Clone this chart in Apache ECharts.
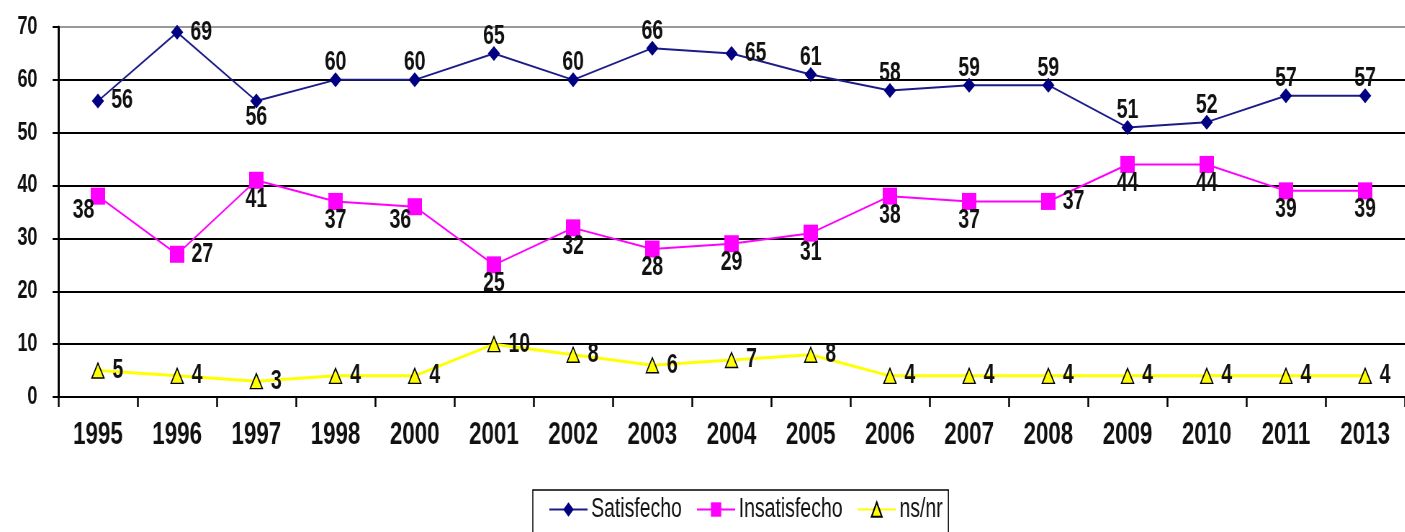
<!DOCTYPE html>
<html>
<head>
<meta charset="utf-8">
<script src="https://cdn.jsdelivr.net/npm/echarts@6/dist/echarts.min.js"></script>
<style>
  html, body { margin: 0; padding: 0; background: #fff; overflow: hidden; }
  /* el original tiene texto estrecho y alto: se dibuja más ancho y se comprime en X */
  #chart { width: 1951px; height: 532px; transform: scaleX(0.72); transform-origin: 0 0; }
</style>
</head>
<body>
<div id="chart"></div>
<script>
// datos
const years = ['1995', '1996', '1997', '1998', '2000', '2001', '2002', '2003', '2004',
  '2005', '2006', '2007', '2008', '2009', '2010', '2011', '2013']
const satisfecho = [56, 69, 56, 60, 60, 65, 60, 66, 65, 61, 58, 59, 59, 51, 52, 57, 57]
const insatisfecho = [38, 27, 41, 37, 36, 25, 32, 28, 29, 31, 38, 37, 37, 44, 44, 39, 39]
const nsnr = [5, 4, 3, 4, 4, 10, 8, 6, 7, 8, 4, 4, 4, 4, 4, 4, 4]

// posiciones de etiquetas que difieren de la posición por defecto de cada serie
const satLabelPos = { 0: 'right', 1: 'right', 2: 'bottom', 8: 'right' }
const insLabelPos = { 0: 'left', 1: 'right', 4: 'left', 12: 'right' }

const font = 'Arial, "Liberation Sans", sans-serif'

function withLabels(values, defPos, overrides, leftOffset) {
  return values.map((v, i) => {
    const pos = overrides[i] || defPos
    const item = { value: v, label: { position: pos } }
    if (pos === 'right') item.label.distance = 10
    if (pos === 'left' && leftOffset) item.label.offset = leftOffset
    return item
  })
}

const chart = echarts.init(document.getElementById('chart'))
const labelStyle = {
  show: true,
  color: '#111',
  fontFamily: font,
  fontWeight: 'bold',
  fontSize: 27,
  distance: 2
}

chart.setOption({
  animation: false,
  grid: { left: 81, top: 27, width: 1889, bottom: 135 },
  xAxis: {
    type: 'category',
    data: years,
    boundaryGap: true,
    axisLine: { lineStyle: { color: '#000', width: 2 } },
    axisTick: { show: true, length: 10, lineStyle: { color: '#000', width: 2.5 } },
    axisLabel: { color: '#111', fontFamily: font, fontWeight: 'bold', fontSize: 31, margin: 23 }
  },
  yAxis: {
    type: 'value',
    min: 0,
    max: 70,
    interval: 10,
    axisLine: { show: true, lineStyle: { color: '#000', width: 3 } },
    axisTick: { show: true, length: 8, lineStyle: { color: '#000', width: 2 } },
    axisLabel: { color: '#111', fontFamily: font, fontWeight: 'bold', fontSize: 25, margin: 29 },
    splitLine: {
      lineStyle: {
        color: ['#000', '#000', '#000', '#000', '#000', '#000', '#000', '#999'],
        width: 2
      }
    }
  },
  legend: {
    top: 490,
    left: 740,
    itemGap: 20,
    itemWidth: 53,
    itemHeight: 18,
    borderColor: '#000',
    borderWidth: 1.5,
    padding: [6, 8, 40, 22],
    textStyle: { color: '#111', fontFamily: font, fontSize: 27 },
    data: ['Satisfecho', 'Insatisfecho', 'ns/nr']
  },
  series: [
    {
      name: 'Satisfecho',
      type: 'line',
      data: withLabels(satisfecho, 'top', satLabelPos),
      symbol: 'diamond',
      symbolSize: [17, 15],
      itemStyle: { color: '#000080' },
      lineStyle: { color: '#1c1c88', width: 2 },
      label: Object.assign({}, labelStyle, { distance: -4 })
    },
    {
      name: 'Insatisfecho',
      type: 'line',
      data: withLabels(insatisfecho, 'bottom', insLabelPos, [2, 14]),
      symbol: 'rect',
      symbolSize: [20, 17],
      itemStyle: { color: '#ff00ff' },
      lineStyle: { color: '#ff00ff', width: 2 },
      label: Object.assign({}, labelStyle, { distance: -3 })
    },
    {
      name: 'ns/nr',
      type: 'line',
      data: nsnr,
      symbol: 'triangle',
      symbolSize: [17, 15],
      itemStyle: { color: '#ffff00', borderColor: '#000', borderWidth: 1.5 },
      lineStyle: { color: '#ffff00', width: 3 },
      label: Object.assign({}, labelStyle, { position: 'right', distance: 11 })
    }
  ]
})
</script>
</body>
</html>
